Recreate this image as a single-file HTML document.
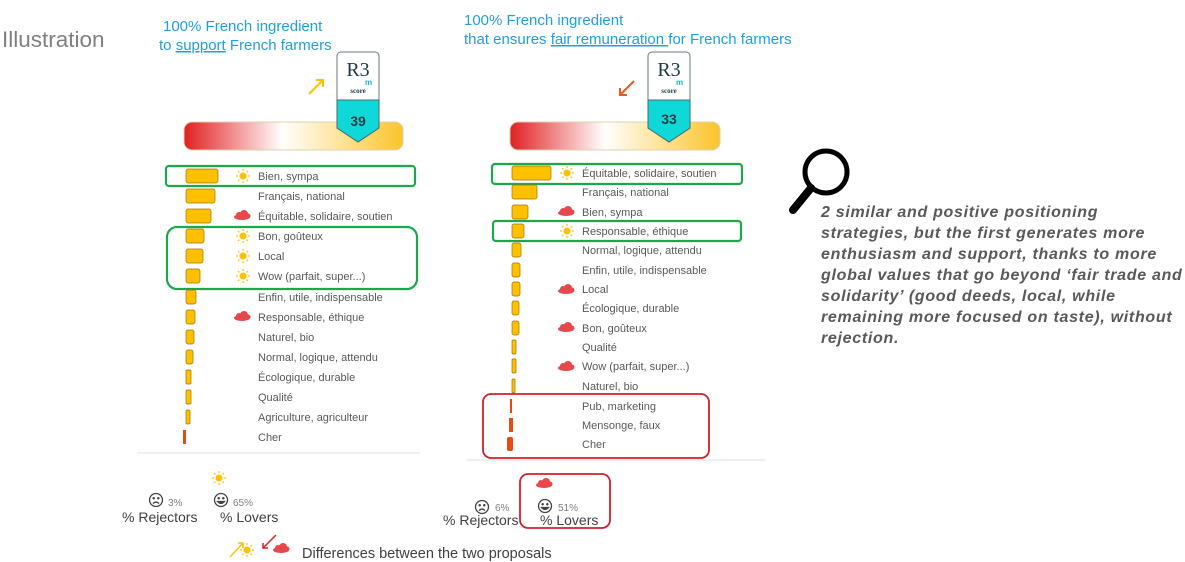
<!DOCTYPE html>
<html><head><meta charset="utf-8"><style>
body{margin:0;background:#fff;}
svg{display:block;font-family:"Liberation Sans",sans-serif;}
.l{font-size:11px;fill:#595959;}
</style></head><body>
<svg width="1185" height="562" viewBox="0 0 1185 562" xmlns="http://www.w3.org/2000/svg">
<defs>
<linearGradient id="g" x1="0" x2="1"><stop offset="0" stop-color="#e02020"/><stop offset="0.45" stop-color="#ffffff"/><stop offset="1" stop-color="#fcc42a"/></linearGradient>
<g id="sun"><circle r="3.5" fill="#FFC000"/><g stroke="#FFC000" stroke-width="1.2"><line x1="0" y1="-7" x2="0" y2="-5"/><line x1="0" y1="5" x2="0" y2="7"/><line x1="-7" y1="0" x2="-5" y2="0"/><line x1="5" y1="0" x2="7" y2="0"/><line x1="-5" y1="-5" x2="-3.6" y2="-3.6"/><line x1="5" y1="5" x2="3.6" y2="3.6"/><line x1="-5" y1="5" x2="-3.6" y2="3.6"/><line x1="5" y1="-5" x2="3.6" y2="-3.6"/></g></g>
<g id="cloud" fill="#e8474b"><ellipse cx="0" cy="2" rx="8" ry="3"/><circle cx="-3" cy="0" r="3"/><circle cx="2" cy="-1" r="4"/><circle cx="6" cy="1" r="2.5"/></g>
<g id="badge"><path d="M0,4 a4,4 0 0 1 4,-4 h34 a4,4 0 0 1 4,4 v72 l-21,14 l-21,-14z" fill="#fff" stroke="#6a7a80" stroke-width="1"/><path d="M0,48 h42 v28 l-21,14 l-21,-14z" fill="#0fd8d8" stroke="#4a6a70" stroke-width="1"/><text x="21" y="24" font-family="Liberation Serif" font-size="20" fill="#1d3b45" text-anchor="middle">R3</text><text x="28" y="33" font-size="8" fill="#12b8c0" font-weight="bold">m</text><text x="21" y="41" font-family="Liberation Serif" font-weight="bold" font-size="7" fill="#1d3b45" text-anchor="middle">score</text></g>
<g id="sad" fill="none" stroke="#444" stroke-width="1.3"><circle r="6.5"/><circle cx="-2.3" cy="-1.8" r="0.6" fill="#444"/><circle cx="2.3" cy="-1.8" r="0.6" fill="#444"/><path d="M-3,3.5 q3,-3 6,0"/></g>
<g id="happy" fill="none" stroke="#444" stroke-width="1.3"><circle r="6.5"/><circle cx="-2.3" cy="-1.8" r="0.6" fill="#444"/><circle cx="2.3" cy="-1.8" r="0.6" fill="#444"/><path d="M-3.5,1.5 q3.5,4 7,0z" fill="#444"/></g>
</defs>
<text x="2" y="47" font-size="22.5" fill="#7f7f7f">Illustration</text>
<g font-size="15" fill="#1ea0e0">
<text x="163" y="31">100% French ingredient</text>
<text x="159" y="50">to <tspan text-decoration="underline">support</tspan> French farmers</text>
<text x="464" y="25">100% French ingredient</text>
<text x="464" y="44">that ensures <tspan text-decoration="underline">fair remuneration </tspan>for French farmers</text>
</g>
<g stroke="#FFC000" stroke-width="2" fill="none"><line x1="309" y1="94" x2="323" y2="80"/><path d="M316,80 h7 v7"/></g>
<g stroke="#f05a20" stroke-width="2" fill="none"><line x1="634" y1="81" x2="620" y2="95"/><path d="M620,88 v7 h7"/></g>
<rect x="184" y="122" width="219" height="28" rx="8" fill="url(#g)" stroke="#e0d0b0"/>
<rect x="510" y="122" width="210" height="28" rx="8" fill="url(#g)" stroke="#e0d0b0"/>
<use href="#badge" x="337" y="52"/>
<text x="358" y="126" font-size="14" font-weight="bold" fill="#1d3b45" text-anchor="middle">39</text>
<use href="#badge" x="648" y="52"/>
<text x="669" y="124" font-size="14" font-weight="bold" fill="#1d3b45" text-anchor="middle">33</text>
<g fill="#FFC000" stroke="#a07000" stroke-width="0.7">
<rect x="186" y="169" width="32" height="14" rx="2"/><rect x="186" y="189" width="29" height="14" rx="2"/><rect x="186" y="209" width="25" height="14" rx="2"/><rect x="186" y="229" width="18" height="14" rx="2"/><rect x="186" y="249" width="17" height="14" rx="2"/><rect x="186" y="269" width="14" height="14" rx="2"/><rect x="186" y="290" width="10" height="14" rx="2"/><rect x="186" y="310" width="9" height="14" rx="2"/><rect x="186" y="330" width="8" height="14" rx="2"/><rect x="186" y="350" width="7" height="14" rx="2"/><rect x="186" y="370" width="5" height="14" rx="1"/><rect x="186" y="390" width="5" height="14" rx="1"/><rect x="186" y="410" width="4" height="14" rx="1"/>
</g>
<rect x="183" y="430" width="3" height="14" fill="#e84a10"/>
<g class="l">
<text x="258" y="180">Bien, sympa</text><text x="258" y="200">Français, national</text><text x="258" y="220">Équitable, solidaire, soutien</text><text x="258" y="240">Bon, goûteux</text><text x="258" y="260">Local</text><text x="258" y="280">Wow (parfait, super...)</text><text x="258" y="301">Enfin, utile, indispensable</text><text x="258" y="321">Responsable, éthique</text><text x="258" y="341">Naturel, bio</text><text x="258" y="361">Normal, logique, attendu</text><text x="258" y="381">Écologique, durable</text><text x="258" y="401">Qualité</text><text x="258" y="421">Agriculture, agriculteur</text><text x="258" y="441">Cher</text>
</g>
<use href="#sun" x="243" y="176"/><use href="#cloud" x="242" y="215"/><use href="#sun" x="243" y="236"/><use href="#sun" x="243" y="256"/><use href="#sun" x="243" y="276"/><use href="#cloud" x="242" y="316"/>
<g fill="none" stroke="#1aa84a" stroke-width="2.2">
<rect x="166" y="166" width="249" height="20" rx="3"/><rect x="167" y="227" width="250" height="62" rx="10"/>
<rect x="492" y="164" width="250" height="20" rx="3"/><rect x="493" y="221" width="248" height="20" rx="3"/>
</g>
<g fill="#FFC000" stroke="#a07000" stroke-width="0.7">
<rect x="512" y="166" width="39" height="14" rx="2"/><rect x="512" y="185" width="25" height="14" rx="2"/><rect x="512" y="205" width="16" height="14" rx="2"/><rect x="512" y="224" width="12" height="14" rx="2"/><rect x="512" y="243" width="9" height="14" rx="2"/><rect x="512" y="263" width="8" height="14" rx="2"/><rect x="512" y="282" width="8" height="14" rx="2"/><rect x="512" y="301" width="7" height="14" rx="2"/><rect x="512" y="321" width="7" height="14" rx="2"/><rect x="512" y="340" width="4" height="14" rx="1"/><rect x="512" y="359" width="4" height="14" rx="1"/><rect x="512" y="379" width="3" height="14" rx="1"/>
</g>
<rect x="510" y="399" width="2" height="14" fill="#e84a10"/><rect x="509" y="418" width="4" height="14" fill="#e84a10"/><rect x="507" y="437" width="6" height="14" rx="2" fill="#e84a10"/>
<g class="l">
<text x="582" y="177">Équitable, solidaire, soutien</text><text x="582" y="196">Français, national</text><text x="582" y="216">Bien, sympa</text><text x="582" y="235">Responsable, éthique</text><text x="582" y="254">Normal, logique, attendu</text><text x="582" y="274">Enfin, utile, indispensable</text><text x="582" y="293">Local</text><text x="582" y="312">Écologique, durable</text><text x="582" y="332">Bon, goûteux</text><text x="582" y="351">Qualité</text><text x="582" y="370">Wow (parfait, super...)</text><text x="582" y="390">Naturel, bio</text><text x="582" y="410">Pub, marketing</text><text x="582" y="429">Mensonge, faux</text><text x="582" y="448">Cher</text>
</g>
<use href="#sun" x="567" y="173"/><use href="#cloud" x="566" y="211"/><use href="#sun" x="567" y="231"/><use href="#cloud" x="566" y="289"/><use href="#cloud" x="566" y="327"/><use href="#cloud" x="566" y="366"/>
<g fill="none" stroke="#d0202a" stroke-width="1.8">
<rect x="483" y="394" width="226" height="64" rx="8"/><rect x="520" y="474" width="90" height="54" rx="8"/>
</g>
<line x1="137" y1="453" x2="420" y2="453" stroke="#e0e0e0"/>
<line x1="467" y1="460" x2="765" y2="460" stroke="#e0e0e0"/>
<use href="#sun" x="219" y="478"/>
<use href="#sad" x="156" y="500"/><text x="168" y="506" font-size="10" fill="#808080">3%</text>
<use href="#happy" x="221" y="500"/><text x="233" y="506" font-size="10" fill="#808080">65%</text>
<text x="122" y="522" font-size="14" fill="#404040">% Rejectors</text><text x="220" y="522" font-size="14" fill="#404040">% Lovers</text>
<use href="#cloud" x="544" y="483"/>
<use href="#sad" x="482" y="507"/><text x="495" y="511" font-size="10" fill="#808080">6%</text>
<use href="#happy" x="545" y="506"/><text x="558" y="511" font-size="10" fill="#808080">51%</text>
<text x="443" y="525" font-size="14" fill="#404040">% Rejectors</text><text x="540" y="525" font-size="14" fill="#404040">% Lovers</text>
<g stroke="#FFC000" stroke-width="1.5"><line x1="230" y1="557" x2="243" y2="543"/><path d="M238,543 h5 v5" fill="none"/></g>
<use href="#sun" x="247" y="550"/>
<g stroke="#e02020" stroke-width="1.5" fill="none"><line x1="276" y1="535" x2="263" y2="548"/><path d="M263,543 v5 h5"/></g>
<use href="#cloud" x="281" y="548"/>
<text x="302" y="558" font-size="14.5" fill="#404040">Differences between the two proposals</text>
<g stroke="#000" fill="none"><circle cx="826" cy="172" r="21" stroke-width="5"/><line x1="811" y1="188" x2="793" y2="210" stroke-width="8" stroke-linecap="round"/></g>
<g font-size="16" font-weight="bold" font-style="italic" fill="#595959" letter-spacing="0.7">
<text x="821" y="217">2 similar and positive positioning</text>
<text x="821" y="238">strategies, but the first generates more</text>
<text x="821" y="259">enthusiasm and support, thanks to more</text>
<text x="821" y="280">global values that go beyond ‘fair trade and</text>
<text x="821" y="301">solidarity’ (good deeds, local, while</text>
<text x="821" y="322">remaining more focused on taste), without</text>
<text x="821" y="343">rejection.</text>
</g>
</svg>
</body></html>
